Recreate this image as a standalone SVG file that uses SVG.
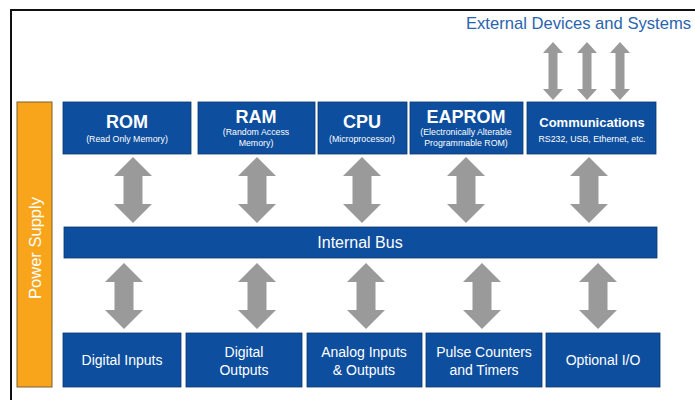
<svg xmlns="http://www.w3.org/2000/svg" width="695" height="400" viewBox="0 0 695 400">
<defs>
<style>
.box{fill:#0d4e9e;stroke:#08386f;stroke-width:0.8}
.arr{fill:#9a9a9a}
.t{font-family:"Liberation Sans",Arial,sans-serif;fill:#fff;text-anchor:middle}
.h{font-weight:bold;font-size:18px}
.s{font-size:8.8px}
.b{font-size:14px}
</style>
<path id="bigArrow" class="arr" d="M0,0 L19,19 L9.5,19 L9.5,47 L19,47 L0,66 L-19,47 L-9.5,47 L-9.5,19 L-19,19 Z"/>
<path id="smallArrow" class="arr" d="M0,0 L10,11 L4.5,11 L4.5,47 L10,47 L0,58 L-10,47 L-4.5,47 L-4.5,11 L-10,11 Z"/>
</defs>
<rect width="695" height="400" fill="#fff"/>
<path d="M11,400 L11,10 L695,10" fill="none" stroke="#111" stroke-width="2"/>
<text x="466" y="29" font-family="Liberation Sans,Arial,sans-serif" font-size="16.6" fill="#2a64ad">External Devices and Systems</text>

<g id="connectors">
<use href="#smallArrow" x="553" y="42"/>
<use href="#smallArrow" x="587" y="42"/>
<use href="#smallArrow" x="620" y="42"/>
<use href="#bigArrow" x="133" y="157"/>
<use href="#bigArrow" x="257" y="157"/>
<use href="#bigArrow" x="362" y="157"/>
<use href="#bigArrow" x="466" y="157"/>
<use href="#bigArrow" x="589" y="157"/>
<use href="#bigArrow" x="124" y="263"/>
<use href="#bigArrow" x="257" y="263"/>
<use href="#bigArrow" x="366" y="263"/>
<use href="#bigArrow" x="482" y="263"/>
<use href="#bigArrow" x="598" y="263"/>
</g>

<g id="power">
<rect x="17" y="102" width="35" height="285" fill="#f8a51c" stroke="#7a6030" stroke-width="1"/>
<text class="t" x="0" y="0" font-size="16.5" transform="translate(40.5,248) rotate(-90)">Power Supply</text>
</g>

<g id="rom"><rect class="box" x="63" y="102" width="128" height="52"/>
<text class="t h" x="127" y="128">ROM</text><text class="t s" x="127" y="142">(Read Only Memory)</text></g>
<g id="ram"><rect class="box" x="198" y="102" width="117" height="52"/>
<text class="t h" x="256" y="123">RAM</text><text class="t s" x="256" y="135">(Random Access</text><text class="t s" x="256" y="146">Memory)</text></g>
<g id="cpu"><rect class="box" x="318" y="102" width="89" height="52"/>
<text class="t h" x="362" y="128">CPU</text><text class="t s" x="362" y="142">(Microprocessor)</text></g>
<g id="eaprom"><rect class="box" x="410" y="102" width="113" height="52"/>
<text class="t h" x="466" y="123">EAPROM</text><text class="t s" x="466" y="135">(Electronically Alterable</text><text class="t s" x="466" y="146">Programmable ROM)</text></g>
<g id="comms"><rect class="box" x="527" y="102" width="129" height="52"/>
<text class="t" x="592" y="127" font-size="13" font-weight="bold">Communications</text><text class="t s" x="592" y="142">RS232, USB, Ethernet, etc.</text></g>

<g id="bus"><rect class="box" x="64" y="227" width="593" height="31"/>
<text class="t" x="360" y="248" font-size="16">Internal Bus</text></g>

<g id="din"><rect class="box" x="63" y="333" width="118" height="54"/>
<text class="t b" x="122" y="365">Digital Inputs</text></g>
<g id="dout"><rect class="box" x="186" y="333" width="116" height="54"/>
<text class="t b" x="244" y="357">Digital</text><text class="t b" x="244" y="375">Outputs</text></g>
<g id="analog"><rect class="box" x="307" y="333" width="115" height="54"/>
<text class="t b" x="364" y="357">Analog Inputs</text><text class="t b" x="364" y="375">&amp; Outputs</text></g>
<g id="pulse"><rect class="box" x="426" y="333" width="116" height="54"/>
<text class="t b" x="484" y="357">Pulse Counters</text><text class="t b" x="484" y="375">and Timers</text></g>
<g id="optio"><rect class="box" x="546" y="333" width="114" height="54"/>
<text class="t b" x="603" y="365">Optional I/O</text></g>
</svg>
